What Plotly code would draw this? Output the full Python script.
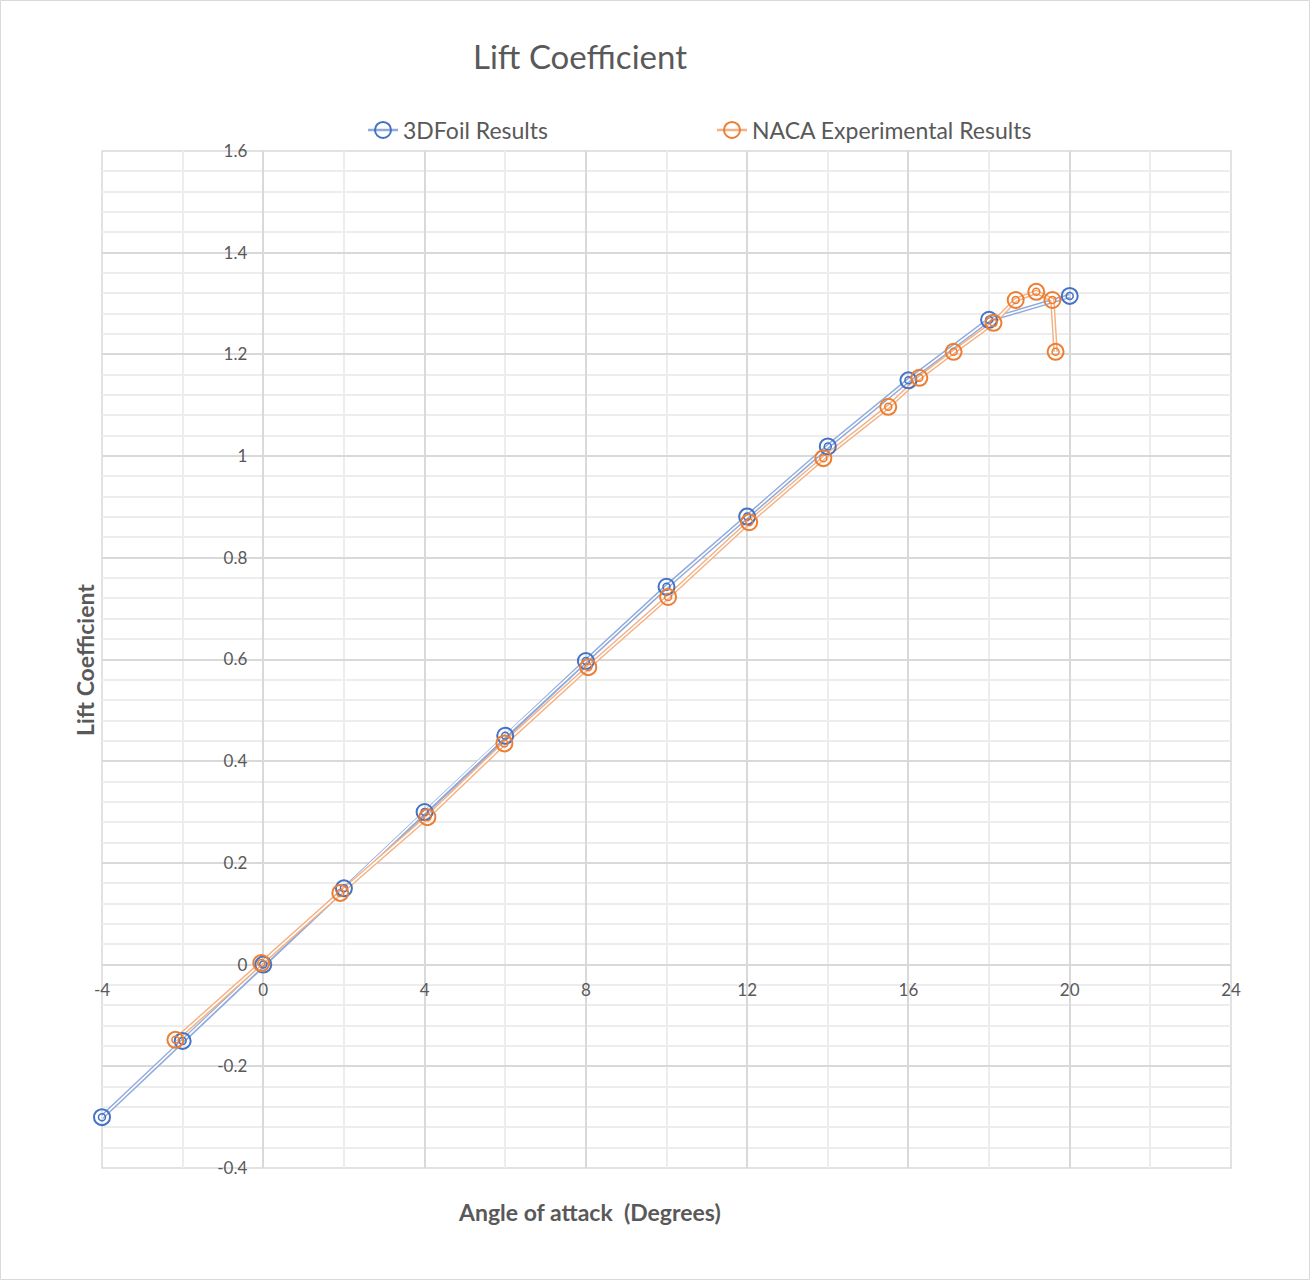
import plotly.graph_objects as go

# ---- data ----
foil_aoa = [-4, -2, 0, 2, 4, 6, 8, 10, 12, 14, 16, 18, 20]
foil_cl = [-0.30, -0.15, 0.0, 0.15, 0.30, 0.45, 0.597, 0.743, 0.881, 1.019, 1.149, 1.268, 1.315]

naca_aoa = [-2.18, -0.05, 1.91, 4.07, 5.98, 8.06, 10.04, 12.05, 13.89, 15.5, 16.27, 17.12, 18.11, 18.66, 19.17, 19.57, 19.65]
naca_cl = [-0.148, 0.003, 0.141, 0.29, 0.435, 0.585, 0.723, 0.87, 0.996, 1.097, 1.154, 1.205, 1.262, 1.307, 1.323, 1.307, 1.205]

x_ticks = [-4, 0, 4, 8, 12, 16, 20, 24]
x_tick_text = ["-4", "0", "4", "8", "12", "16", "20", "24"]
y_ticks = [-0.4, -0.2, 0, 0.2, 0.4, 0.6, 0.8, 1, 1.2, 1.4, 1.6]
y_tick_text = ["-0.4", "-0.2", "0", "0.2", "0.4", "0.6", "0.8", "1", "1.2", "1.4", "1.6"]

series = [
    ("3DFoil Results", foil_aoa, foil_cl, "#4472C4", "rgb(143,170,220)", "legend"),
    ("NACA Experimental Results", naca_aoa, naca_cl, "#ED7D31", "rgb(244,177,131)", "legend2"),
]

FONT = "Lato"
TXT = "#595959"

fig = go.Figure()
for name, xs, ys, mcol, lcol, lg in series:
    # double line: coloured wide stroke + white core
    fig.add_trace(go.Scatter(x=xs, y=ys, mode="lines", line=dict(color=lcol, width=4.5),
                             showlegend=False, hoverinfo="skip"))
    fig.add_trace(go.Scatter(x=xs, y=ys, mode="lines", line=dict(color="white", width=1.6),
                             showlegend=False, hoverinfo="skip"))
for name, xs, ys, mcol, lcol, lg in series:
    fig.add_trace(go.Scatter(x=xs, y=ys, mode="markers", name=name, showlegend=False,
                             cliponaxis=False,
                             marker=dict(symbol="circle-open", size=16, color=mcol,
                                         line=dict(color=mcol, width=2))))
    fig.add_trace(go.Scatter(x=xs, y=ys, mode="markers", showlegend=False, cliponaxis=False,
                             marker=dict(symbol="circle-open", size=7, color=mcol,
                                         line=dict(color=mcol, width=1.5))))
    # legend entry
    fig.add_trace(go.Scatter(x=[None], y=[None], mode="lines+markers", name=name, legend=lg,
                             line=dict(color=lcol, width=2.5),
                             marker=dict(symbol="circle-open", size=16, color=mcol,
                                         line=dict(color=mcol, width=2))))

L, R, T, B = 102, 79, 151, 112
W, H = 1310, 1280
pw, ph = W - L - R, H - T - B

def px_x(p):
    return (p - L) / pw

def px_y(p):
    return (H - B - p) / ph

fig.update_layout(
    width=W, height=H,
    margin=dict(l=L, r=R, t=T, b=B, pad=0),
    paper_bgcolor="white", plot_bgcolor="white",
    font=dict(family=FONT, color=TXT),
    title=dict(text="Lift Coefficient", x=580 / W, y=1 - 57 / H, xref="container", yref="container",
               xanchor="center", yanchor="middle", font=dict(family=FONT, size=33, color=TXT)),
    legend=dict(orientation="h", x=px_x(363), y=px_y(130), xanchor="left", yanchor="middle",
                font=dict(family=FONT, size=23, color=TXT), bgcolor="rgba(0,0,0,0)"),
    legend2=dict(orientation="h", x=px_x(712), y=px_y(130), xanchor="left", yanchor="middle",
                 font=dict(family=FONT, size=23, color=TXT), bgcolor="rgba(0,0,0,0)"),
    xaxis=dict(range=[-4, 24], tickmode="array", tickvals=x_ticks, ticktext=x_tick_text,
               showgrid=True, gridcolor="#d9d9d9", gridwidth=1.5, zeroline=False,
               minor=dict(tickmode="linear", tick0=-4, dtick=2, showgrid=True, gridcolor="#ededed", gridwidth=1.5),
               anchor="free", position=0.2, showline=False, ticks="", ticklabelstandoff=13,
               tickfont=dict(family=FONT, size=17, color=TXT)),
    yaxis=dict(range=[-0.4, 1.6], tickmode="array", tickvals=y_ticks, ticktext=y_tick_text,
               showgrid=True, gridcolor="#d9d9d9", gridwidth=1.5, zeroline=False,
               minor=dict(tickmode="linear", tick0=-0.4, dtick=0.04, showgrid=True, gridcolor="#ededed", gridwidth=1.5),
               anchor="free", position=4 / 28, showline=False, ticks="", ticklabelstandoff=16,
               tickfont=dict(family=FONT, size=17, color=TXT)),
    annotations=[
        dict(text="<b>Angle of attack  (Degrees)</b>", x=px_x(589), y=px_y(1212), xref="paper", yref="paper",
             showarrow=False, xanchor="center", yanchor="middle", font=dict(family=FONT, size=23, color=TXT)),
        dict(text="<b>Lift Coefficient</b>", x=px_x(85), y=px_y(660), xref="paper", yref="paper",
             showarrow=False, textangle=-90, xanchor="center", yanchor="middle",
             font=dict(family=FONT, size=23, color=TXT)),
    ],
    shapes=[
        dict(type="rect", xref="paper", yref="paper",
             x0=px_x(0.5), x1=px_x(W - 0.5), y0=px_y(H - 0.5), y1=px_y(0.5),
             line=dict(color="#d9d9d9", width=1), layer="below"),
        dict(type="rect", xref="paper", yref="paper", x0=0, x1=1, y0=0, y1=1,
             line=dict(color="#d9d9d9", width=1.5), layer="below"),
    ],
)

fig.write_html("out.html")
